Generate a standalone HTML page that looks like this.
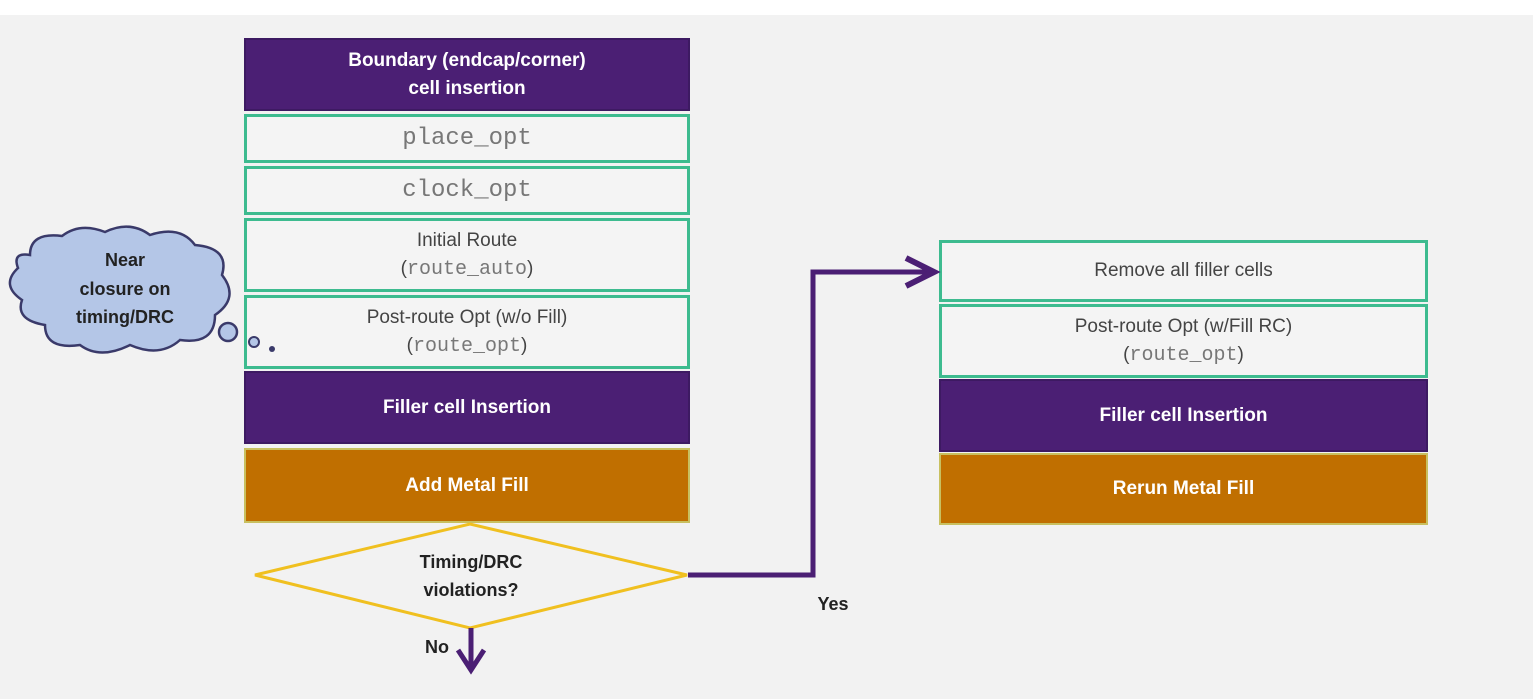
<!DOCTYPE html>
<html><head><style>
body{margin:0;width:1533px;height:699px;overflow:hidden;background:#f2f2f2;font-family:"Liberation Sans",sans-serif;}
.b{position:absolute;box-sizing:border-box;display:flex;flex-direction:column;align-items:center;justify-content:center;text-align:center;font-size:19px;line-height:28px;}
.g{background:#f4f4f4;border:3px solid #3dbb8f;color:#444;}
.p{background:#4b1f74;color:#fff;font-weight:bold;border:2px solid #3d1a62;}
.o{background:#c06f00;color:#fff;font-weight:bold;border:2px solid #c8c060;}
.m{font-family:"Liberation Mono",monospace;color:#777;font-size:20px;}
</style></head><body>
<div style="position:absolute;left:0;top:0;width:1533px;height:15px;background:#fff"></div>
<div class="b p" style="left:244px;top:38px;width:446px;height:73px;">Boundary (endcap/corner)<br>cell insertion</div>
<div class="b g" style="left:244px;top:114px;width:446px;height:49px;"><span class="m" style="font-size:24px">place_opt</span></div>
<div class="b g" style="left:244px;top:166px;width:446px;height:49px;"><span class="m" style="font-size:24px">clock_opt</span></div>
<div class="b g" style="left:244px;top:218px;width:446px;height:74px;"><span>Initial Route</span><span>(<span class="m">route_auto</span>)</span></div>
<div class="b g" style="left:244px;top:295px;width:446px;height:74px;"><span>Post-route Opt (w/o Fill)</span><span>(<span class="m">route_opt</span>)</span></div>
<div class="b p" style="left:244px;top:371px;width:446px;height:73px;">Filler cell Insertion</div>
<div class="b o" style="left:244px;top:448px;width:446px;height:75px;">Add Metal Fill</div>

<div class="b g" style="left:939px;top:240px;width:489px;height:62px;">Remove all filler cells</div>
<div class="b g" style="left:939px;top:304px;width:489px;height:74px;"><span>Post-route Opt (w/Fill RC)</span><span>(<span class="m">route_opt</span>)</span></div>
<div class="b p" style="left:939px;top:379px;width:489px;height:73px;">Filler cell Insertion</div>
<div class="b o" style="left:939px;top:453px;width:489px;height:72px;">Rerun Metal Fill</div>

<svg width="1533" height="699" style="position:absolute;left:0;top:0">
<polygon points="255,575 470,524 687,575 470,628" fill="none" stroke="#f0c020" stroke-width="3"/>
<text x="471" y="568" text-anchor="middle" font-size="18" font-weight="bold" fill="#222" font-family="Liberation Sans">Timing/DRC</text>
<text x="471" y="596" text-anchor="middle" font-size="18" font-weight="bold" fill="#222" font-family="Liberation Sans">violations?</text>
<path d="M688 575 H813 V272 H933" fill="none" stroke="#4b1f74" stroke-width="5"/>
<path d="M906 258 L934 272 L906 286" fill="none" stroke="#4b1f74" stroke-width="6"/>
<text x="833" y="610" text-anchor="middle" font-size="18" font-weight="bold" fill="#222" font-family="Liberation Sans">Yes</text>
<path d="M471 628 V668" stroke="#4b1f74" stroke-width="5"/>
<path d="M458 650 L471 670 L484 650" fill="none" stroke="#4b1f74" stroke-width="5"/>
<text x="437" y="653" text-anchor="middle" font-size="18" font-weight="bold" fill="#222" font-family="Liberation Sans">No</text>
<path d="M30 255 Q30 232 62 236 Q80 222 105 232 Q130 220 150 235 Q180 225 195 245 Q230 248 222 275 Q240 298 215 315 Q215 345 180 340 Q160 358 130 345 Q100 360 80 345 Q45 350 45 325 Q15 320 22 300 Q0 285 18 268 Q12 252 30 255 Z" fill="#b4c6e7" stroke="#3a3a6a" stroke-width="2.5"/>
<circle cx="228" cy="332" r="9" fill="#b4c6e7" stroke="#3a3a6a" stroke-width="2.5"/>
<circle cx="254" cy="342" r="5" fill="#b4c6e7" stroke="#3a3a6a" stroke-width="2"/>
<circle cx="272" cy="349" r="3" fill="#3a3a6a"/>
<g font-family="Liberation Sans" font-size="18" font-weight="bold" fill="#222" text-anchor="middle">
<text x="125" y="266">Near</text><text x="125" y="295">closure on</text><text x="125" y="323">timing/DRC</text></g>
</svg>
</body></html>
